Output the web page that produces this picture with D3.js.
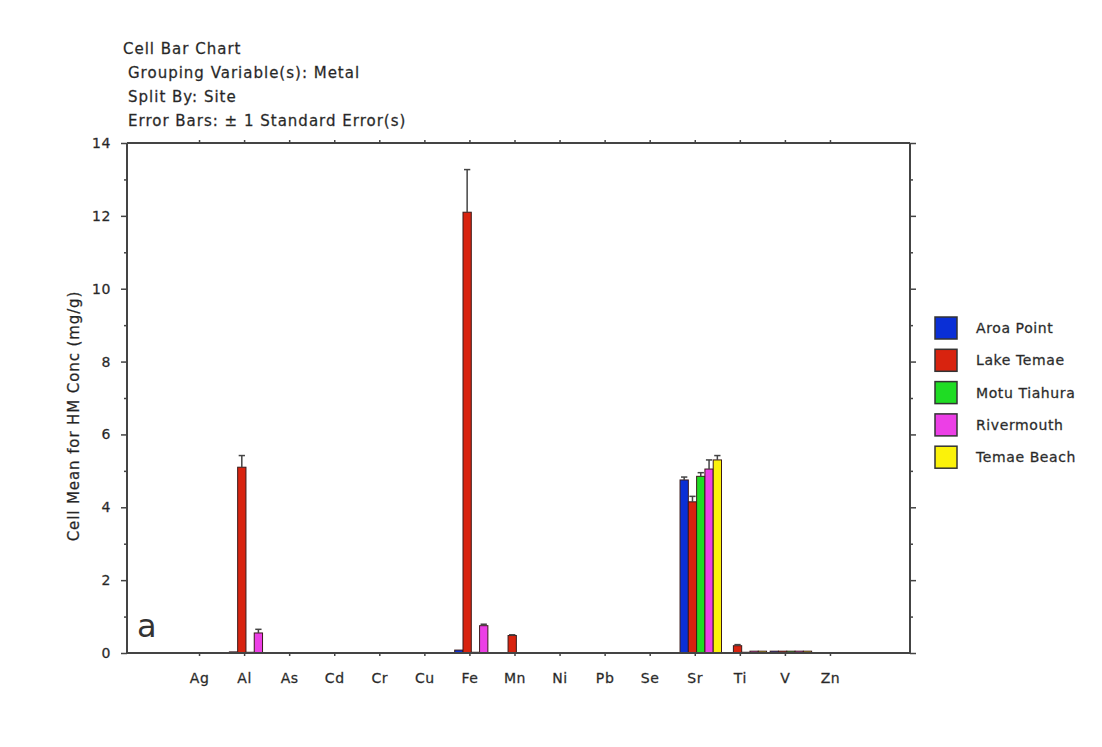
<!DOCTYPE html>
<html>
<head>
<meta charset="utf-8">
<script src="https://cdn.jsdelivr.net/npm/d3@7"></script>
<style>
  body { margin: 0; background: #fff; }
  svg text {
    font-family: "DejaVu Sans", Verdana, sans-serif;
    font-size: 14px;
    letter-spacing: 0.6px;
    fill: #1e1e1e;
    stroke: #444;
    stroke-width: 0.3px;
  }
  svg text.big { font-size: 15px; letter-spacing: 1px; }
</style>
</head>
<body>
<svg id="chart" width="1102" height="747"></svg>
<script>
// categories and series
const metals = ['Ag', 'Al', 'As', 'Cd', 'Cr', 'Cu', 'Fe', 'Mn', 'Ni', 'Pb', 'Se', 'Sr', 'Ti', 'V', 'Zn'];
const sites = ['Aroa Point', 'Lake Temae', 'Motu Tiahura', 'Rivermouth', 'Temae Beach'];
const siteColors = ['#0a2fd6', '#d8230f', '#1fdc24', '#ec3fe6', '#fbf20a'];

// cell means (mg/g), one value per metal
const aroaPoint   = [0, 0.03, 0, 0, 0, 0, 0.08, 0, 0, 0, 0, 4.75, 0, 0.05, 0];
const lakeTemae   = [0, 5.1, 0, 0, 0, 0, 12.1, 0.48, 0, 0, 0, 4.15, 0.2, 0.05, 0];
const motuTiahura = [0, 0.02, 0, 0, 0, 0, 0.02, 0, 0, 0, 0, 4.85, 0.02, 0.05, 0];
const rivermouth  = [0, 0.55, 0, 0, 0, 0, 0.75, 0, 0, 0, 0, 5.05, 0.05, 0.05, 0];
const temaeBeach  = [0, 0, 0, 0, 0, 0, 0, 0, 0, 0, 0, 5.3, 0.05, 0.05, 0];

// standard errors
const aroaPointSE   = [0, 0, 0, 0, 0, 0, 0, 0, 0, 0, 0, 0.08, 0, 0, 0];
const lakeTemaeSE   = [0, 0.32, 0, 0, 0, 0, 1.17, 0.02, 0, 0, 0, 0.15, 0.03, 0, 0];
const motuTiahuraSE = [0, 0, 0, 0, 0, 0, 0, 0, 0, 0, 0, 0.1, 0, 0, 0];
const rivermouthSE  = [0, 0.1, 0, 0, 0, 0, 0.04, 0, 0, 0, 0, 0.25, 0, 0, 0];
const temaeBeachSE  = [0, 0, 0, 0, 0, 0, 0, 0, 0, 0, 0, 0.12, 0, 0, 0];

const yTicks = [0, 2, 4, 6, 8, 10, 12, 14];
const yMinorTicks = [1, 3, 5, 7, 9, 11, 13];

const titleLines = ['Cell Bar Chart', 'Grouping Variable(s): Metal', 'Split By: Site', 'Error Bars: \u00b1 1 Standard Error(s)'];
const yLabel = 'Cell Mean for HM Conc (mg/g)';

const means = [aroaPoint, lakeTemae, motuTiahura, rivermouth, temaeBeach];
const errors = [aroaPointSE, lakeTemaeSE, motuTiahuraSE, rivermouthSE, temaeBeachSE];

const rows = [];
sites.forEach((s, si) => {
  metals.forEach((m, mi) => {
    rows.push({ site: s, si: si, metal: m, value: means[si][mi], se: errors[si][mi] });
  });
});

const svg = d3.select('#chart');
const plotLeft = 127, plotRight = 910, plotTop = 143, plotBottom = 653;
const axisColor = '#444';

const x0 = d3.scaleBand().domain(metals).range([177, 853]).paddingInner(0.08).paddingOuter(0.04);
// bar groups sit a little right of the tick in the original
const x1 = d3.scaleBand().domain(sites).range([5.5, x0.bandwidth() + 5.5]);
const y = d3.scaleLinear().domain([0, 14]).range([plotBottom, plotTop]);
const color = d3.scaleOrdinal().domain(sites).range(siteColors);

// title block
svg.append('g').selectAll('text')
  .data(titleLines)
  .enter().append('text')
    .attr('class', 'big')
    .attr('x', (d, i) => i === 0 ? 123 : 128)
    .attr('y', (d, i) => 54 + i * 24)
    .text(d => d);

// bars
const bars = svg.append('g');
bars.selectAll('rect')
  .data(rows.filter(d => d.value > 0))
  .enter().append('rect')
    .attr('x', d => x0(d.metal) + x1(d.site))
    .attr('y', d => y(d.value))
    .attr('width', x1.bandwidth())
    .attr('height', d => y(0) - y(d.value))
    .attr('fill', d => color(d.site))
    .attr('stroke', '#3a1a1a')
    .attr('stroke-width', 1);

// error bars (upper)
const errs = svg.append('g').attr('stroke', '#444').attr('stroke-width', 1.5);
const errRows = rows.filter(d => d.se > 0);
errs.selectAll('line.v')
  .data(errRows)
  .enter().append('line')
    .attr('class', 'v')
    .attr('x1', d => x0(d.metal) + x1(d.site) + x1.bandwidth() / 2)
    .attr('x2', d => x0(d.metal) + x1(d.site) + x1.bandwidth() / 2)
    .attr('y1', d => y(d.value))
    .attr('y2', d => y(d.value + d.se));
errs.selectAll('line.c')
  .data(errRows)
  .enter().append('line')
    .attr('class', 'c')
    .attr('x1', d => x0(d.metal) + x1(d.site) + 1)
    .attr('x2', d => x0(d.metal) + x1(d.site) + x1.bandwidth() - 1)
    .attr('y1', d => y(d.value + d.se))
    .attr('y2', d => y(d.value + d.se));

// frame
const frame = svg.append('g').attr('stroke', axisColor).attr('stroke-width', 2);
frame.append('line').attr('x1', plotLeft).attr('x2', plotLeft).attr('y1', plotTop).attr('y2', plotBottom);
frame.append('line').attr('x1', plotRight).attr('x2', plotRight).attr('y1', plotTop).attr('y2', plotBottom);
frame.append('line').attr('x1', plotLeft).attr('x2', plotRight).attr('y1', plotTop).attr('y2', plotTop);
frame.append('line').attr('x1', plotLeft).attr('x2', plotRight).attr('y1', plotBottom).attr('y2', plotBottom);

// left axis
const yAxisL = svg.append('g')
  .attr('transform', `translate(${plotLeft},0)`)
  .call(d3.axisLeft(y).tickValues(yTicks).tickSize(6).tickPadding(10).tickFormat(d3.format('d')));
yAxisL.select('.domain').remove();
yAxisL.selectAll('line').attr('stroke', axisColor).attr('stroke-width', 1.5);
yAxisL.selectAll('text').attr('font-family', null).attr('font-size', null).attr('fill', null);
svg.append('g').attr('transform', `translate(${plotLeft},0)`)
  .call(d3.axisLeft(y).tickValues(yMinorTicks).tickSize(3).tickFormat(''))
  .call(g => g.select('.domain').remove())
  .selectAll('line').attr('stroke', axisColor).attr('stroke-width', 1.5);

// right axis
svg.append('g').attr('transform', `translate(${plotRight},0)`)
  .call(d3.axisRight(y).tickValues(yTicks).tickSize(6).tickFormat(''))
  .call(g => g.select('.domain').remove())
  .selectAll('line').attr('stroke', axisColor).attr('stroke-width', 1.5);
svg.append('g').attr('transform', `translate(${plotRight},0)`)
  .call(d3.axisRight(y).tickValues(yMinorTicks).tickSize(3).tickFormat(''))
  .call(g => g.select('.domain').remove())
  .selectAll('line').attr('stroke', axisColor).attr('stroke-width', 1.5);

// bottom axis
const xAxis = svg.append('g')
  .attr('transform', `translate(0,${plotBottom})`)
  .call(d3.axisBottom(x0).tickSize(3).tickPadding(17));
xAxis.select('.domain').remove();
xAxis.selectAll('line').attr('stroke', axisColor).attr('stroke-width', 1.5);
xAxis.selectAll('text').attr('font-family', null).attr('font-size', null).attr('fill', null);

// top ticks
svg.append('g').attr('transform', `translate(0,${plotTop})`)
  .call(d3.axisTop(x0).tickSize(3).tickFormat(''))
  .call(g => g.select('.domain').remove())
  .selectAll('line').attr('stroke', axisColor).attr('stroke-width', 1.5);

// y label
svg.append('text')
  .attr('transform', 'translate(79,416) rotate(-90)')
  .attr('text-anchor', 'middle')
  .style('font-size', '15px')
  .style('letter-spacing', '0.9px')
  .text(yLabel);

// panel letter
svg.append('text')
  .attr('x', 137).attr('y', 637)
  .style('font-size', '32px')
  .style('stroke-width', '0px')
  .style('fill', '#333')
  .text('a');

// legend
const legend = svg.append('g').attr('transform', 'translate(935,317)');
const li = legend.selectAll('g')
  .data(sites)
  .enter().append('g')
    .attr('transform', (d, i) => `translate(0,${i * 32.3})`);
li.append('rect')
  .attr('width', 22).attr('height', 22)
  .attr('fill', d => color(d))
  .attr('stroke', '#333').attr('stroke-width', 1.5);
li.append('text')
  .attr('x', 41).attr('y', 16)
  .text(d => d);
</script>
</body>
</html>
